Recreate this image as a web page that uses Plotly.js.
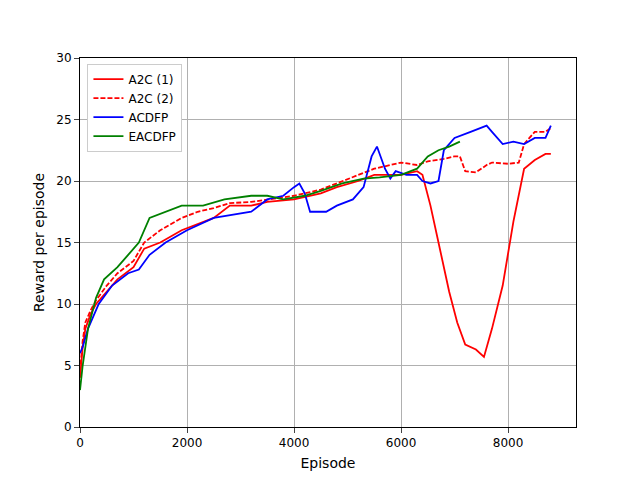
<!DOCTYPE html>
<html><head><script src="https://cdn.plot.ly/plotly-3.0.1.min.js"></script></head>
<body style="margin:0"><div id="c" style="width:640px;height:480px"></div>
<script>
const a1x=[0,50,100,200,300,500,700,1000,1200,1500,1900,2200,2500,2800,3200,3500,4000,4500,4800,5200,5500,6000,6300,6400,6550,6700,6900,7050,7200,7400,7550,7700,7900,8100,8300,8500,8700,8800];
const a1y=[4,6.5,8,9.2,10,11,12,13,14.5,15,16,16.5,17,18,18,18.3,18.5,19,19.5,20,20.5,20.5,20.8,20.5,18,15,11,8.5,6.7,6.3,5.7,8,11.5,16.7,21,21.7,22.2,22.2];
const a2x=[0,50,100,200,300,500,700,1000,1200,1500,1900,2200,2500,2800,3200,3500,4000,4500,4800,5200,5500,5800,6000,6300,6500,6800,7000,7100,7200,7400,7600,7700,8000,8200,8300,8400,8500,8700,8800];
const a2y=[4.5,7,8.5,9.5,10.3,11.5,12.5,13.5,15,16,17,17.5,17.8,18.2,18.3,18.5,18.8,19.3,19.8,20.5,21,21.3,21.5,21.3,21.6,21.8,22,22,20.8,20.7,21.3,21.5,21.4,21.5,23,23.5,24,24,24.3];
const bx=[0,50,150,350,600,900,1100,1300,1600,2000,2500,2800,3200,3500,3800,4000,4100,4200,4300,4600,4800,5100,5300,5450,5550,5700,5800,5900,6100,6300,6400,6550,6700,6800,7000,7300,7600,7700,7900,8100,8300,8500,8700,8800];
const by=[6,6.5,8,10,11.5,12.5,12.8,14,15,16,17,17.2,17.5,18.5,18.8,19.5,19.8,19,17.5,17.5,18,18.5,19.5,22,22.8,21,20.2,20.8,20.5,20.5,20,19.8,20,22.5,23.5,24,24.5,24,23,23.2,23,23.5,23.5,24.5];
const gx=[0,50,150,300,450,700,900,1100,1300,1600,1900,2300,2700,3200,3500,3800,4200,4500,4900,5300,5600,6000,6300,6500,6700,6900,7100];
const gy=[3,5,8,10.5,12,13,14,15,17,17.5,18,18,18.5,18.8,18.8,18.5,18.8,19.2,19.8,20.2,20.3,20.5,21,22,22.5,22.8,23.2];
const names=["A2C (1)","A2C (2)","ACDFP","EACDFP"];
const tr=[[a1x,a1y,'red','solid'],[a2x,a2y,'red','5px,2px'],[bx,by,'blue','solid'],[gx,gy,'green','solid']].map((t,i)=>({x:t[0],y:t[1],name:names[i],mode:'lines',line:{color:t[2],dash:t[3],width:1.8}}));
Plotly.newPlot('c',tr,{width:640,height:480,paper_bgcolor:'white',plot_bgcolor:'white',
margin:{l:80,r:64,t:58,b:53},font:{family:'DejaVu Sans',size:12,color:'black'},showlegend:true,
legend:{x:0.015,y:0.985,bordercolor:'#ccc',borderwidth:1,bgcolor:'white'},
xaxis:{range:[0,9270],tickvals:[0,2000,4000,6000,8000],showgrid:true,gridcolor:'#b0b0b0',showline:true,mirror:true,linecolor:'black',ticks:'outside',zeroline:false,title:{text:'Episode',standoff:8}},
yaxis:{range:[0,30],dtick:5,showgrid:true,gridcolor:'#b0b0b0',showline:true,mirror:true,linecolor:'black',ticks:'outside',zeroline:false,title:{text:'Reward per episode',standoff:8}}},{displayModeBar:false});
</script></body></html>
